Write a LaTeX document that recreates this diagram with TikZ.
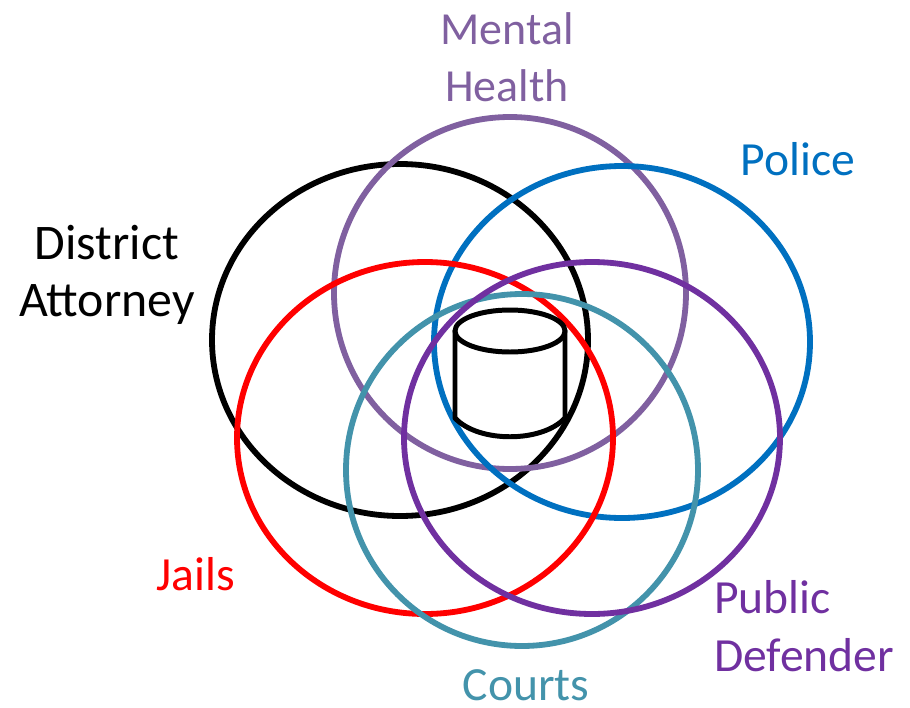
\documentclass[tikz,border=0pt]{standalone}
\usepackage{fontspec}
\setmainfont{Carlito}
\usetikzlibrary{shapes.geometric}
\definecolor{mh}{HTML}{8060A0}
\definecolor{pol}{HTML}{0070C0}
\definecolor{pd}{HTML}{7030A0}
\definecolor{ct}{HTML}{4393AB}
\definecolor{jl}{HTML}{FF0000}
\tikzset{
  ring/.style={ellipse,draw,line width=10.5pt,minimum width=352*0.0635cm,minimum height=352*0.0635cm,inner sep=0pt,outer sep=0pt},
  wide/.style={ring,minimum width=376*0.0635cm},
  cyl/.style={line width=9pt,draw=black,fill=white},
  lab/.style={font=\fontsize{86}{104}\selectfont,align=center,inner sep=0pt},
  lab1/.style={font=\fontsize{86}{104}\selectfont,inner sep=0pt}
}
\begin{document}
\begin{tikzpicture}[x=0.0635cm,y=-0.0635cm,line join=round]
\useasboundingbox (0,0) rectangle (910,708);
\node[wide,draw=black] (da) at (400,340) {};
\node[ring,draw=mh] (mhc) at (510,293) {};
\node[wide,draw=pol] (po) at (622,342) {};
\node[wide,draw=jl] (ja) at (425,438) {};
\node[ring,draw=ct] (co) at (522,470) {};
\node[wide,draw=pd] (pu) at (592,438) {};
\draw[cyl] (455,331) -- (455,418) .. controls (478,443) and (542,443) .. (565,418) -- (565,331) -- cycle;
\draw[cyl] (510,331) ellipse[x radius=55,y radius=21];
\node[lab,text=mh,font=\fontsize{83}{104}\selectfont] (t1) at (507,57) {Mental\\Health};
\node[lab1,text=pol] (t2) at (798,159) {Police};
\node[lab,text=black,font=\fontsize{90}{104}\selectfont] (t3) at (107,275) {District\\Attorney};
\node[lab1,text=jl] (t4) at (196,574) {Jails};
\node[lab,text=pd,align=left] (t5) at (804,626) {Public\\Defender};
\node[lab1,text=ct] (t6) at (526,685) {Courts};
\end{tikzpicture}
\end{document}
